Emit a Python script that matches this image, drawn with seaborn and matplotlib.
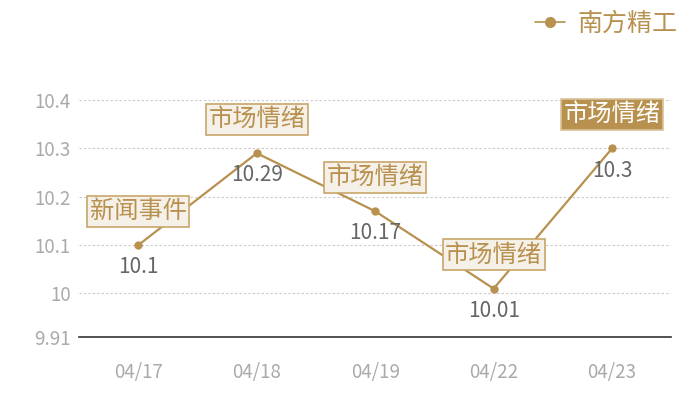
import matplotlib
matplotlib.use("Agg")
import matplotlib.pyplot as plt
import seaborn as sns
import pandas as pd
from matplotlib.lines import Line2D

dates = ["04/17", "04/18", "04/19", "04/22", "04/23"]
prices = [10.1, 10.29, 10.17, 10.01, 10.3]
price_labels = ["10.1", "10.29", "10.17", "10.01", "10.3"]
events = ["新闻事件", "市场情绪", "市场情绪", "市场情绪", "市场情绪"]
y_ticks = [9.91, 10, 10.1, 10.2, 10.3, 10.4]
y_tick_labels = ["9.91", "10", "10.1", "10.2", "10.3", "10.4"]
series_name = "南方精工"

sns.set_theme(style="white")
plt.rcParams['font.family'] = ['Noto Sans CJK SC', 'DejaVu Sans']

GOLD = "#b8914f"
df = pd.DataFrame({"date": dates, "price": prices})

fig = plt.figure(figsize=(7, 4), dpi=100)
ax = fig.add_axes([0.113, 0.1575, 0.846, 0.5925])

sns.lineplot(data=df, x="date", y="price", ax=ax, color=GOLD, linewidth=1.6,
             marker="o", markersize=6, markeredgewidth=0, sort=False)

ax.set_xlim(-0.5, len(dates) - 0.5)
ax.set_ylim(9.91, 10.4)
ax.set_yticks(y_ticks)
ax.set_yticklabels(y_tick_labels)
ax.set_xlabel("")
ax.set_ylabel("")
for s in ["top", "right", "left"]:
    ax.spines[s].set_visible(False)
ax.spines["bottom"].set_color("#333333")
ax.spines["bottom"].set_linewidth(1.2)
ax.tick_params(axis="both", length=0, labelsize=13.5, labelcolor="#aaaaaa")
ax.tick_params(axis="x", pad=18)
ax.tick_params(axis="y", pad=6)
for t in y_ticks[1:]:
    ax.axhline(t, color="#c8c8c8", linestyle=(0, (2, 2)), linewidth=0.8, zorder=0)

for i, (v, lab, ev) in enumerate(zip(prices, price_labels, events)):
    ax.annotate(lab, (i, v), xytext=(0, -16), textcoords="offset points",
                ha="center", va="center", fontsize=15, color="#666666")
    last = i == len(prices) - 1
    ax.annotate(ev, (i, v), xytext=(0, 24.5), textcoords="offset points",
                ha="center", va="center", fontsize=17.5,
                color="white" if last else GOLD,
                bbox=dict(boxstyle="square,pad=0.1",
                          facecolor=GOLD if last else "#f5f0e8",
                          edgecolor="#d9c29a" if last else "#c9a66b",
                          linewidth=1.2))

handle = Line2D([], [], color=GOLD, linewidth=1.2, marker="o", markersize=8,
                markeredgewidth=0)
fig.legend([handle], [series_name], loc="upper right", bbox_to_anchor=(0.993, 1.018),
           frameon=False, fontsize=18, labelcolor=GOLD, handlelength=1.2,
           handletextpad=0.5, borderpad=0.2)

fig.savefig("out.png", dpi=100)
